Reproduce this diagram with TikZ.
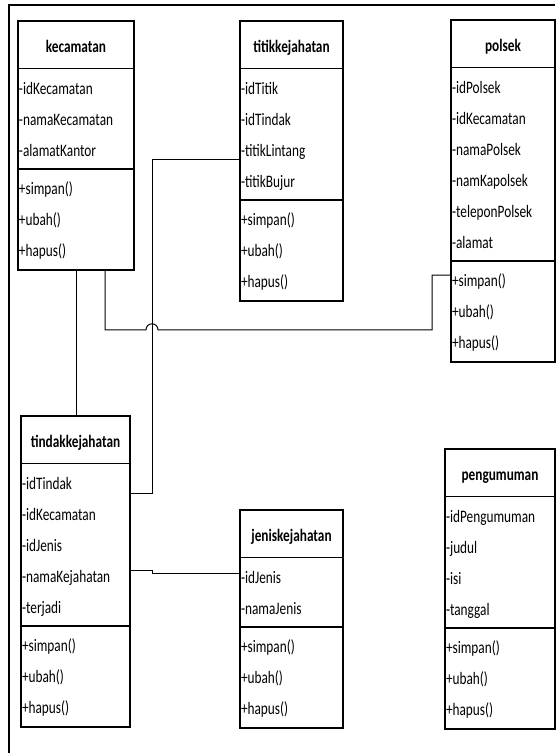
\documentclass[tikz,border=0pt]{standalone}
\usepackage{fontspec}
\setmainfont{Carlito}[FakeStretch=0.76]
\usetikzlibrary{shapes.multipart}
\newcommand{\head}[1]{{\centering\bfseries\rule[-12pt]{0pt}{40pt}#1\par}}
\newcommand{\methods}{\strut+simpan()\\\strut+ubah()\\\strut+hapus()}
\tikzset{
  umlclass/.style={
    rectangle split,
    rectangle split parts=3,
    draw=black,
    fill=white,
    line width=1.6pt,
    anchor=north west,
    outer sep=0pt,
    inner xsep=1pt,
    inner ysep=3pt,
    align=left,
    font=\fontsize{17.5}{31}\selectfont,
    text width=#1
  },
  link/.style={
    draw=black,
    line width=1pt
  },
  frame/.style={
    draw=black,
    line width=1.3pt
  }
}

\begin{document}
\begin{tikzpicture}[x=1pt, y=-1pt]
  \useasboundingbox[fill=white] (0,0) rectangle (559,753);
  \draw[frame] (9,753) -- (9,5) -- (555,5);

  \node[umlclass=114pt] (kec) at (18,21) {\head{kecamatan}
    \nodepart{two}\strut-idKecamatan\\\strut-namaKecamatan\\\strut-alamatKantor
    \nodepart{three}\methods};
  \node[umlclass=101pt] (titik) at (240,21) {\head{titikkejahatan}
    \nodepart{two}\strut-idTitik\\\strut-idTindak\\\strut-titikLintang\\\strut-titikBujur
    \nodepart{three}\methods};
  \node[umlclass=102pt] (polsek) at (451,20) {\head{polsek}
    \nodepart{two}\strut-idPolsek\\\strut-idKecamatan\\\strut-namaPolsek\\
      \strut-namKapolsek\\\strut-teleponPolsek\\\strut-alamat
    \nodepart{three}\methods};
  \node[umlclass=107pt] (tindak) at (21,416) {\head{tindakkejahatan}
    \nodepart{two}\strut-idTindak\\\strut-idKecamatan\\\strut-idJenis\\
      \strut-namaKejahatan\\\strut-terjadi
    \nodepart{three}\methods};
  \node[umlclass=101pt] (jenis) at (240,510) {\head{jeniskejahatan}
    \nodepart{two}\strut-idJenis\\\strut-namaJenis
    \nodepart{three}\methods};
  \node[umlclass=108pt] (peng) at (445,449) {\head{pengumuman}
    \nodepart{two}\strut-idPengumuman\\\strut-judul\\\strut-isi\\\strut-tanggal
    \nodepart{three}\methods};

  % relations
  \draw[link] ([xshift=58pt]kec.south west) --
    ([xshift=58pt]kec.south west |- tindak.north);
  \draw[link] ([yshift=-91pt]titik.text split west) -- ++(-88pt,0)
    |- ([yshift=-30pt]tindak.text split east);
  \draw[link] ([xshift=87pt]kec.south west) -- ++(0,-60pt) -- ++(41pt,0)
    arc[start angle=180, end angle=0, radius=6pt]
    -| ([xshift=-19pt, yshift=-14pt]polsek.two split west)
    -- ([yshift=-14pt]polsek.two split west);
  \draw[link] ([yshift=-107pt]tindak.text split east) -- ++(22pt,0)
    |- ([yshift=-16pt]jenis.text split west);
\end{tikzpicture}
\end{document}
